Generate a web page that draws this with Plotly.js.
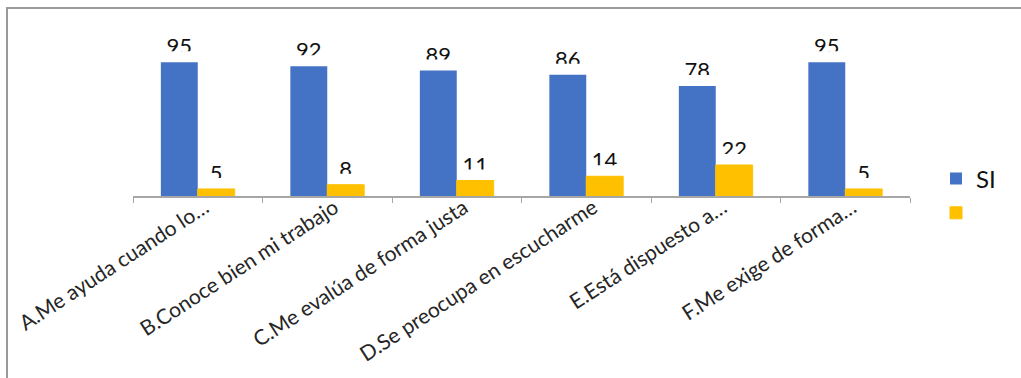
<!DOCTYPE html>
<html>
<head>
<meta charset="utf-8">
<script src="https://cdn.plot.ly/plotly-3.0.1.min.js"></script>
<style>
  html, body { margin: 0; padding: 0; background: #ffffff; overflow: hidden; }
  #frame {
    position: absolute; left: 6px; top: 7px; right: 0; bottom: 0;
    border-top: 2px solid #9a9a9a; border-left: 2px solid #9a9a9a;
  }
  #chart { position: absolute; left: 0; top: 0; width: 1021px; height: 378px; }
</style>
</head>
<body>
<div id="frame"></div>
<div id="chart"></div>
<script>
// Survey items and the share of answers per option
const categories = [
  'A.Me ayuda cuando lo…',
  'B.Conoce bien mi trabajo',
  'C.Me evalúa de forma justa',
  'D.Se preocupa en escucharme',
  'E.Está dispuesto a…',
  'F.Me exige de forma…'
];
const siValues = [95, 92, 89, 86, 78, 95];
const noValues = [5, 8, 11, 14, 22, 5];
const seriesNames = ['SI', ''];
const seriesColors = ['#4472C4', '#FFC000'];

const labelFont = { family: 'Lato, "Open Sans", sans-serif', size: 22, color: '#111111' };

// Value labels sit in their own transparent bars so the library places them above each bar
function labelTrace(values, group) {
  return {
    type: 'bar', x: categories, y: values, offsetgroup: group,
    marker: { color: 'rgba(0,0,0,0)' },
    text: values.map(String), textposition: 'outside', textfont: labelFont,
    constraintext: 'none', cliponaxis: false,
    showlegend: false, hoverinfo: 'skip'
  };
}
// White band just above each bar trims the lower edge of its label
function coverTrace(values, group) {
  return {
    type: 'bar', x: categories, y: values, offsetgroup: group,
    marker: { color: '#ffffff', line: { color: '#ffffff', width: 22 } },
    showlegend: false, hoverinfo: 'skip'
  };
}
function seriesTrace(values, group, i) {
  return {
    type: 'bar', x: categories, y: values, offsetgroup: group,
    name: seriesNames[i],
    marker: { color: seriesColors[i], line: { color: seriesColors[i], width: i === 1 ? 1 : 0 } },
    hoverinfo: 'x+y'
  };
}

const data = [
  labelTrace(siValues, 'si'),
  coverTrace(siValues, 'si'),
  labelTrace(noValues, 'no'),
  coverTrace(noValues, 'no'),
  seriesTrace(siValues, 'si', 0),
  seriesTrace(noValues, 'no', 1)
];

const layout = {
  width: 1021, height: 378,
  margin: { l: 133, r: 111, t: 41, b: 182, pad: 0 },
  paper_bgcolor: 'rgba(0,0,0,0)',
  plot_bgcolor: 'rgba(0,0,0,0)',
  barmode: 'group', bargap: 0.43, bargroupgap: 0,
  font: { family: 'Lato, "Open Sans", sans-serif', color: '#262626' },
  xaxis: {
    type: 'category', tickson: 'boundaries', ticks: 'outside', ticklen: 5,
    tickwidth: 1, tickcolor: '#a6a6a6', showline: true, linecolor: '#a6a6a6', linewidth: 1.5,
    tickangle: -33, tickfont: { family: 'Lato, "Open Sans", sans-serif', size: 21, color: '#262626' },
    ticklabelstandoff: -10, ticklabelshift: 7,
    showgrid: false, zeroline: false, fixedrange: true
  },
  yaxis: { range: [0, 110], visible: false, fixedrange: true },
  legend: {
    x: (936 - 133) / 777, xanchor: 'left', y: 0, yanchor: 'middle',
    font: { family: 'Lato, "Open Sans", sans-serif', size: 24, color: '#111111' },
    bgcolor: 'rgba(0,0,0,0)', traceorder: 'normal'
  },
  showlegend: true
};

Plotly.newPlot('chart', data, layout, { displayModeBar: false, staticPlot: true });
</script>
</body>
</html>
